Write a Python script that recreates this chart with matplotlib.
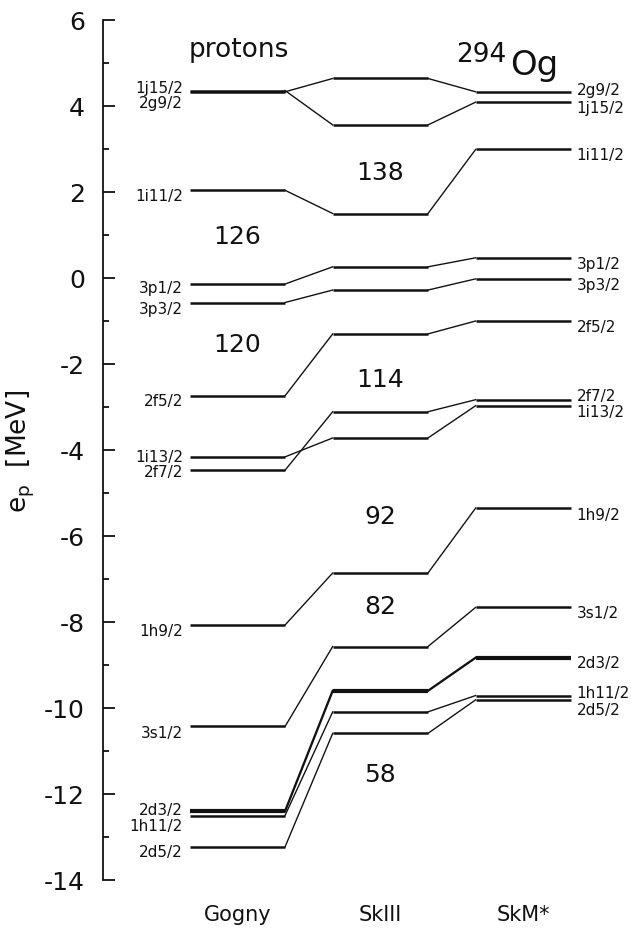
import matplotlib
matplotlib.use('Agg')
import matplotlib.pyplot as plt

plt.rcParams['axes.unicode_minus'] = False   # guion simple como en el original

#####################DATOS: niveles de protones (MeV)
modelos = ['Gogny', 'SkIII', 'SkM*']
niveles = ['1j15/2', '2g9/2', '1i11/2', '3p1/2', '3p3/2', '2f5/2', '2f7/2',
           '1i13/2', '1h9/2', '3s1/2', '2d3/2', '1h11/2', '2d5/2']

e_gogny = [4.36, 4.33, 2.04, -0.14, -0.57, -2.74, -4.47,
           -4.16, -8.07, -10.43, -12.40, -12.50, -13.23]
e_skiii = [3.56, 4.64, 1.50, 0.26, -0.28, -1.30, -3.11,
           -3.72, -6.86, -8.57, -9.60, -10.09, -10.59]
e_skm = [4.09, 4.33, 2.99, 0.47, -0.02, -1.00, -2.83,
         -2.97, -5.35, -7.66, -8.83, -9.71, -9.81]

# numeros magicos (gaps) en cada columna
gaps_gogny = ['126', '120']
gaps_skiii = ['138', '114', '92', '82', '58']

#####################POSICIONES (layout)
xc = [0.0, 1.5, 3.0]     # centro de cada columna
hw = 0.5                 # media anchura de cada nivel
# posicion vertical de las etiquetas (corrida para que no se pisen)
lab_izq = [4.44, 4.07, 1.91, -0.23, -0.70, -2.86, -4.51,
           -4.14, -8.19, -10.56, -12.37, -12.74, -13.33]
lab_der = [3.97, 4.38, 2.88, 0.34, -0.14, -1.13, -2.74,
           -3.10, -5.49, -7.77, -8.94, -9.65, -10.04]
y_gaps_gogny = [0.98, -1.53]
y_gaps_skiii = [2.47, -2.35, -5.53, -7.63, -11.53]

col = '#111111'

fig = plt.figure(figsize=(6.31, 9.29), dpi=100)
ax = fig.add_axes([103/631., 48/929., 528/631., 860/929.])

energias = [e_gogny, e_skiii, e_skm]
for i in range(len(niveles)):
    lw = 1.8
    if niveles[i] == '2d3/2':
        lw = 3.0
    for k in range(3):
        e = energias[k][i]
        ax.plot([xc[k]-hw, xc[k]+hw], [e, e], color=col, lw=lw,
                solid_capstyle='butt')
        if k < 2:   # linea que une con la columna siguiente
            e2 = energias[k+1][i]
            ax.plot([xc[k]+hw, xc[k+1]-hw], [e, e2], color=col,
                    lw=lw*0.55)
    ax.text(xc[0]-hw-0.07, lab_izq[i], niveles[i], ha='right', va='center',
            fontsize=11, color=col)
    ax.text(xc[2]+hw+0.06, lab_der[i], niveles[i], ha='left', va='center',
            fontsize=11, color=col)

for g, yy in zip(gaps_gogny, y_gaps_gogny):
    ax.text(xc[0], yy, g, ha='center', va='center', fontsize=18, color=col)
for g, yy in zip(gaps_skiii, y_gaps_skiii):
    ax.text(xc[1], yy, g, ha='center', va='center', fontsize=18, color=col)

ax.text(xc[0]+0.02, 5.33, 'protons', ha='center', va='center', fontsize=19,
        color=col)
ax.text(2.29, 5.05, '294', ha='left', va='baseline', fontsize=19, color=col)
ax.text(2.86, 4.74, 'Og', ha='left', va='baseline', fontsize=24.5, color=col)

for k in range(3):
    ax.text(xc[k], -14.79, modelos[k], ha='center', va='center',
            fontsize=15, color=col, clip_on=False)

ax.set_xlim(-1.41, 4.13)
ax.set_ylim(-14, 6)
ax.set_yticks(range(-14, 7, 2))
ax.set_yticks(range(-13, 6, 2), minor=True)
ax.set_xticks([])
for s in ['top', 'right', 'bottom']:
    ax.spines[s].set_visible(False)
ax.spines['left'].set_linewidth(1.3)
ax.spines['left'].set_color(col)
ax.tick_params(axis='y', which='major', direction='in', length=8.5,
               width=1.3, pad=13, labelsize=18, colors=col)
ax.tick_params(axis='y', which='minor', direction='in', length=4.5,
               width=1.3, colors=col)
ax.set_ylabel(r'e$_\mathrm{p}$  [MeV]', fontsize=19, color=col, labelpad=5)

fig.savefig('out.png', dpi=100)
